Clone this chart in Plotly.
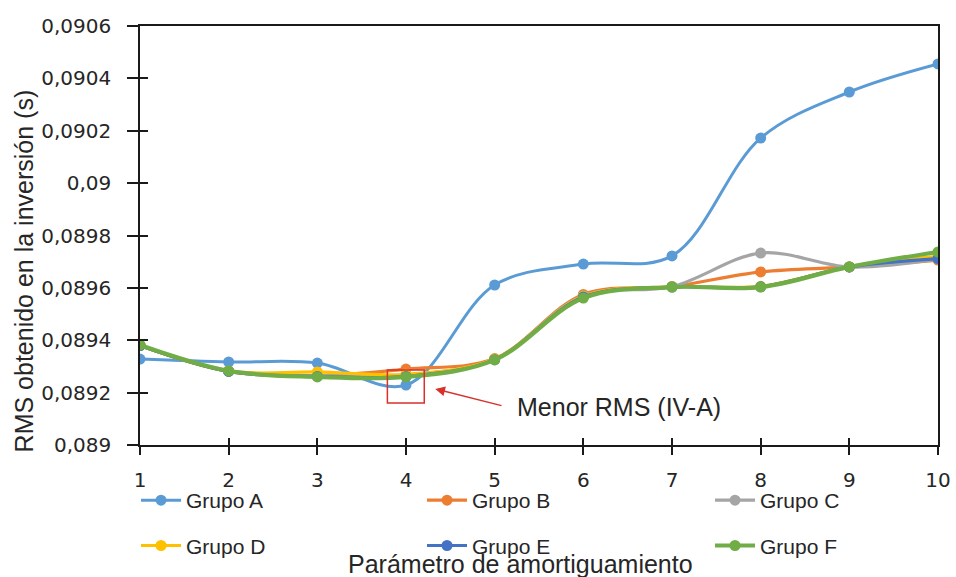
import plotly.graph_objects as go

# Parámetro de amortiguamiento (eje x)
damping = [1, 2, 3, 4, 5, 6, 7, 8, 9, 10]

# RMS obtenido en la inversión (s) por grupo
grupo_a = [0.089328, 0.089317, 0.089313, 0.089229, 0.089611, 0.089691, 0.089722, 0.090172, 0.090348, 0.090455]
grupo_b = [0.089380, 0.089282, 0.089265, 0.089290, 0.089330, 0.089575, 0.089605, 0.089661, 0.089680, 0.089706]
grupo_c = [0.089380, 0.089282, 0.089265, 0.089268, 0.089328, 0.089570, 0.089605, 0.089733, 0.089680, 0.089710]
grupo_d = [0.089380, 0.089282, 0.089279, 0.089270, 0.089328, 0.089568, 0.089604, 0.089606, 0.089681, 0.089720]
grupo_e = [0.089380, 0.089281, 0.089262, 0.089262, 0.089326, 0.089565, 0.089603, 0.089604, 0.089680, 0.089712]
grupo_f = [0.089382, 0.089283, 0.089260, 0.089260, 0.089325, 0.089561, 0.089603, 0.089603, 0.089680, 0.089737]

# Cada columna de la leyenda es una leyenda vertical propia (A/D, B/E, C/F)
series = [
    ("Grupo A", grupo_a, "#5B9BD5", 3.0, "legend"),
    ("Grupo B", grupo_b, "#ED7D31", 3.2, "legend2"),
    ("Grupo C", grupo_c, "#A5A5A5", 3.2, "legend3"),
    ("Grupo D", grupo_d, "#FFC000", 3.2, "legend"),
    ("Grupo E", grupo_e, "#4472C4", 3.2, "legend2"),
    ("Grupo F", grupo_f, "#70AD47", 4.2, "legend3"),
]

y_ticks = [0.0890, 0.0892, 0.0894, 0.0896, 0.0898, 0.0900, 0.0902, 0.0904, 0.0906]
y_ticktext = [f"{v:.4f}".rstrip("0").replace(".", ",") for v in y_ticks]

# Caja que marca el menor RMS y flecha de la etiqueta
box_x = [3.79, 4.206]
box_y = [0.089160, 0.089286]
arrow_head = (4.33, 0.089214)
arrow_tail = (5.094, 0.089149)
label_pos = (5.23, 0.089146)

fig = go.Figure()
for name, vals, color, width, leg in series:
    fig.add_trace(go.Scatter(
        x=damping, y=vals, name=name, mode="lines+markers",
        line=dict(color=color, width=width, shape="spline", smoothing=1.0),
        marker=dict(color=color, size=11),
        legend=leg, legendgroup=name,
    ))

# Eje superpuesto para dibujar las marcas hacia el interior (marcas cruzadas)
fig.add_trace(go.Scatter(x=[], y=[], xaxis="x2", yaxis="y2", showlegend=False, hoverinfo="skip"))

tick_font = dict(family="DejaVu Sans", size=20, color="#262626")
legend_font = dict(family="Liberation Sans, Arial", size=21, color="#262626")


def column_legend(x):
    return dict(
        orientation="v", x=x, xanchor="left", xref="paper",
        y=0.168, yanchor="top", yref="container",
        bgcolor="rgba(0,0,0,0)", font=legend_font, itemwidth=40,
        tracegroupgap=15,
    )


fig.update_layout(
    width=956, height=577,
    margin=dict(l=140, r=18, t=26, b=132, autoexpand=False),
    paper_bgcolor="white", plot_bgcolor="white",
    separators=",.",
    font=dict(family="Liberation Sans, Arial", color="#262626"),
    xaxis=dict(
        range=[1, 10], tickvals=damping, ticks="outside", ticklen=8, tickwidth=1.5,
        tickcolor="#1a1a1a", showline=True, linecolor="#1a1a1a", linewidth=1.5,
        mirror=True, showgrid=False, zeroline=False, tickfont=tick_font,
        ticklabelstandoff=8, automargin=False,
    ),
    yaxis=dict(
        range=[0.0890, 0.0906], tickvals=y_ticks, ticktext=y_ticktext, ticks="outside",
        ticklen=11, tickwidth=1.5, tickcolor="#1a1a1a", showline=True,
        linecolor="#1a1a1a", linewidth=1.5, mirror=True, showgrid=False,
        zeroline=False, tickfont=tick_font, ticklabelstandoff=12, automargin=False,
    ),
    xaxis2=dict(
        range=[1, 10], tickvals=damping, ticks="inside", ticklen=7, tickwidth=1.5,
        tickcolor="#1a1a1a", overlaying="x", anchor="y2", showticklabels=False,
        showline=False, showgrid=False, zeroline=False, automargin=False,
    ),
    yaxis2=dict(
        range=[0.0890, 0.0906], tickvals=y_ticks, ticks="inside", ticklen=8,
        tickwidth=1.5, tickcolor="#1a1a1a", overlaying="y", anchor="x2",
        showticklabels=False, showline=False, showgrid=False, zeroline=False,
        automargin=False,
    ),
    legend=column_legend(-0.005),
    legend2=column_legend(0.3534),
    legend3=column_legend(0.7143),
    shapes=[dict(
        type="rect", xref="x", yref="y", x0=box_x[0], x1=box_x[1],
        y0=box_y[0], y1=box_y[1], line=dict(color="#D8312B", width=1.5),
    )],
    annotations=[
        dict(
            x=arrow_head[0], y=arrow_head[1], ax=arrow_tail[0], ay=arrow_tail[1],
            xref="x", yref="y", axref="x", ayref="y", text="", showarrow=True,
            arrowhead=2, arrowsize=1.3, arrowwidth=1.5, arrowcolor="#D8312B",
        ),
        dict(
            x=label_pos[0], y=label_pos[1], xref="x", yref="y", xanchor="left",
            yanchor="middle", text="Menor RMS (IV-A)", showarrow=False,
            font=dict(family="Liberation Sans, Arial", size=25, color="#262626"),
        ),
        dict(
            x=0.4774, y=-0.284, xref="paper", yref="paper", xanchor="center",
            yanchor="middle", text="Parámetro de amortiguamiento", showarrow=False,
            font=dict(family="Liberation Sans, Arial", size=25, color="#262626"),
        ),
        dict(
            x=-0.145, y=0.415, xref="paper", yref="paper", xanchor="center",
            yanchor="middle", text="RMS obtenido en la inversión (s)", textangle=-90,
            showarrow=False,
            font=dict(family="Liberation Sans, Arial", size=25, color="#262626"),
        ),
    ],
)

fig.write_html("out.html")
